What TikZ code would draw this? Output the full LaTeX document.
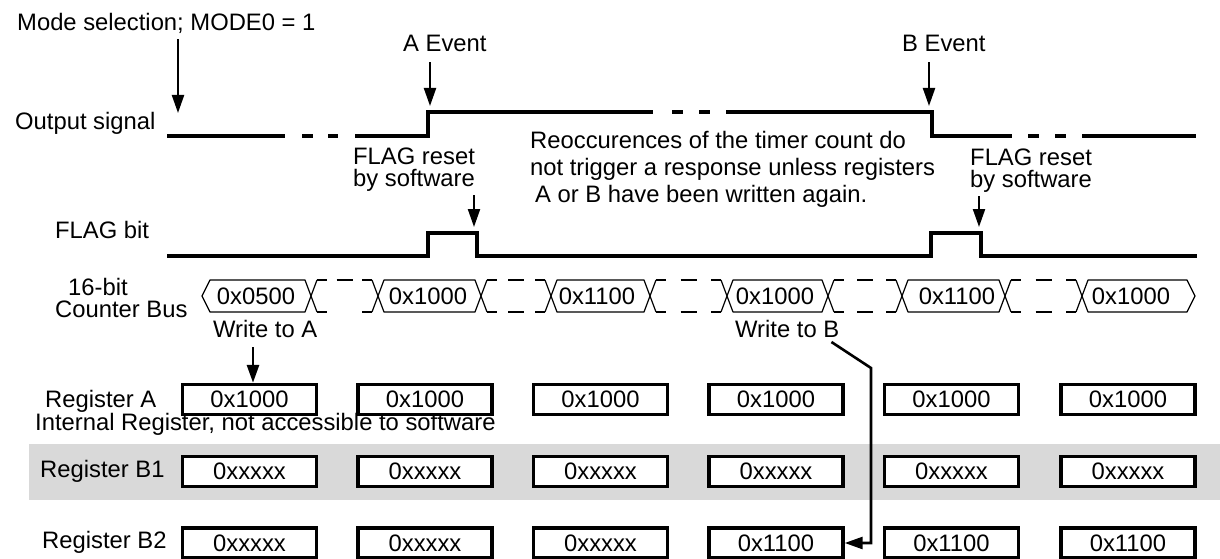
\documentclass[tikz,border=0pt]{standalone}
\usepackage{fontspec}
\setmainfont{Liberation Sans}
\usetikzlibrary{arrows.meta,calc}
\definecolor{band}{RGB}{217,217,217}
\begin{document}
\begin{tikzpicture}[x=1pt,y=-1pt,
  txt/.style={inner sep=0pt, anchor=base west, font=\fontsize{23.8}{27}\selectfont},
  wave/.style={line width=3.2pt},
  arr/.style={line width=2.2pt, -{Triangle[length=18pt,width=12pt]}},
  bus/.style={line width=1.2pt, line join=round},
  busdash/.style={line width=2pt},
  regbox/.style={draw, fill=white, line width=3.4pt, minimum width=134pt, minimum height=30pt, inner sep=0pt, font=\fontsize{23.8}{27}\selectfont},
  busval/.style={inner sep=0pt, font=\fontsize{23.8}{27}\selectfont}
]
\useasboundingbox (0,0) rectangle (1220,559);

% grey band of internal register
\fill[band] (29,444) rectangle (1220,500);

% ---------- labels (multi-line nodes: base = last line) ----------
\node[txt] (mode) at (17,31) {Mode selection; MODE0 = 1};
\node[txt] (aev) at (403,52) {A Event};
\node[txt] (bev) at (902,52) {B Event};
\node[txt] (out) at (15,130) {Output signal};
\node[txt, align=left] (reo) at (530,202) {Reoccurences of the timer count do\\not trigger a response unless registers\\\hspace*{5pt}A or B have been written again.};
\node[txt, align=left, font=\fontsize{23.8}{21.5}\selectfont] (fr1) at (353,186) {FLAG reset\\by software};
\node[txt, align=left, font=\fontsize{23.8}{21.5}\selectfont] (fr2) at (970,187) {FLAG reset\\by software};
\node[txt] (flag) at (55,238) {FLAG bit};
\node[txt, align=left, font=\fontsize{23.8}{22}\selectfont] (cbus) at (55,317) {\hspace*{13pt}16-bit\\Counter Bus};
\node[txt] (wa) at (213,337) {Write to A};
\node[txt] (wb) at (735,337) {Write to B};
\node[txt] (rega) at (45,407) {Register A};
\node[txt] (intl) at (35,430) {Internal Register, not accessible to software};
\node[txt] (regb1) at (40,477) {Register B1};
\node[txt] (regb2) at (42,548) {Register B2};

% ---------- output signal ----------
\draw[wave] (167,136) -- (285,136);
\draw[wave] (302,136) -- (313,136) (328,136) -- (338,136);
\draw[wave] (355,136) -- (428,136) -- (428,112) -- (653,112);
\draw[wave] (672,112) -- (683,112) (699,112) -- (710,112);
\draw[wave] (726,112) -- (932,112) -- (932,136) -- (1012,136);
\draw[wave] (1028,136) -- (1039,136) (1055,136) -- (1066,136);
\draw[wave] (1082,136) -- (1196,136);

% ---------- FLAG bit ----------
\draw[wave] (167,256) -- (428,256) -- (428,233) -- (477,233) -- (477,256) -- (931,256) -- (931,233) -- (981,233) -- (981,256) -- (1197,256);

% ---------- counter bus ----------
\draw[bus] (202,296) -- (210,280) -- (305,280) -- (311,296) -- (305,312) -- (210,312) -- cycle;
\foreach \l/\r in {378/481, 551/650, 727/828, 902/1005}
  \draw[bus] (\l,296) -- (\l+6,280) -- (\r-6,280) -- (\r,296) -- (\r-6,312) -- (\l+6,312) -- cycle;
\draw[bus] (1082,296) -- (1088,280) -- (1187,280) -- (1195,296) -- (1187,312) -- (1088,312) -- cycle;
\foreach \r/\l/\b in {311/378/0, 481/551/1, 650/727/1, 828/902/1, 1005/1082/1} {
  \draw[bus] (\r+6,280) -- (\r,296) -- (\r+6,312);
  \draw[bus] (\l-6,280) -- (\l,296) -- (\l-6,312);
  \draw[busdash] (\r+6,280) -- (\r+16,280) (\r+6,312) -- (\r+16,312);
  \draw[busdash] (\l-16,280) -- (\l-6,280) (\l-16,312) -- (\l-6,312);
  \draw[busdash] ({(\r+\l)/2-8},280) -- ({(\r+\l)/2+8},280);
  \ifnum\b=1 \draw[busdash] ({(\r+\l)/2-8},312) -- ({(\r+\l)/2+8},312); \fi
}
\node[busval] (bv1) at (256,296) {0x0500};
\node[busval] (bv2) at (428,296) {0x1000};
\node[busval] (bv3) at (597,296) {0x1100};
\node[busval] (bv4) at (775,296) {0x1000};
\node[busval] (bv5) at (957,296) {0x1100};
\node[busval] (bv6) at (1131,296) {0x1000};

% ---------- registers ----------
\foreach \i/\x in {1/249.5, 2/425, 3/600.5, 4/776, 5/951.5, 6/1128} {
  \node[regbox] (ra\i) at (\x,399.5) {0x1000};
  \node[regbox] (rb1\i) at (\x,471.5) {\raisebox{-3pt}{0xxxxx}};
}
\foreach \i/\x in {1/249.5, 2/425, 3/600.5}
  \node[regbox] (rb2\i) at (\x,543) {\raisebox{-3pt}{0xxxxx}};
\foreach \i/\x in {4/776, 5/951.5, 6/1128}
  \node[regbox] (rb2\i) at (\x,543) {0x1100};

% ---------- arrows ----------
\coordinate (mtip) at (178,113);
\coordinate (ae) at (430,106);
\coordinate (be) at (929,106);
\coordinate (f1) at (474,227);
\coordinate (f2) at (979,227);
\coordinate (bend) at (871,368);

\draw[arr] ($(mtip |- mode.south)+(0,5)$) -- (mtip);
\draw[arr] ($(ae |- aev.south)+(0,10)$) -- (ae);
\draw[arr] ($(be |- bev.south)+(0,10)$) -- (be);
\draw[arr] ($(f1 |- fr1.south)+(0,4)$) -- (f1);
\draw[arr] ($(f2 |- fr2.south)+(0,4)$) -- (f2);
\draw[arr, line width=2.8pt] ([xshift=40pt,yshift=-10pt]wa.base west) -- ([xshift=3.5pt]ra1.north);
\draw[arr, line width=2.6pt] ([xshift=-8pt,yshift=-5pt]wb.base east) -- (bend) |- (rb24.east);
\end{tikzpicture}
\end{document}
